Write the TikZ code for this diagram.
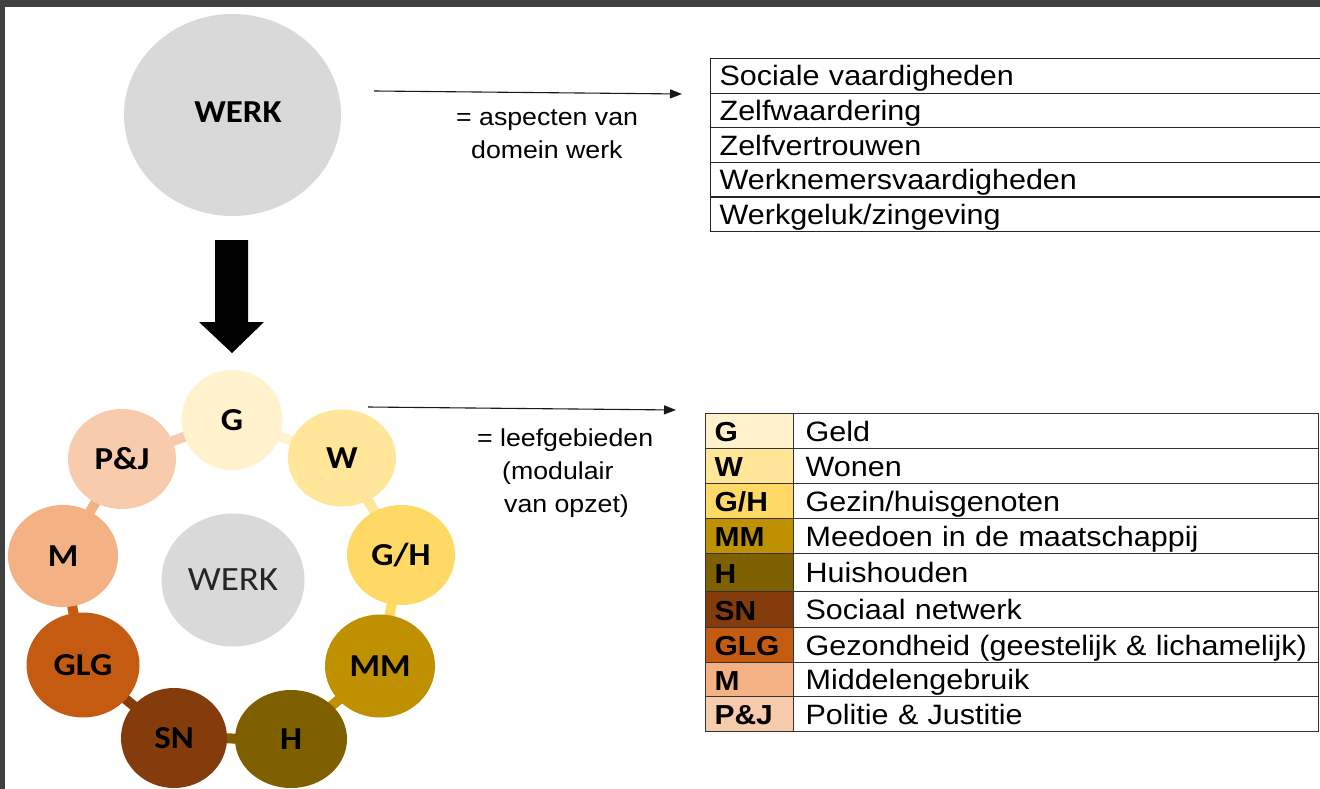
\documentclass[tikz,border=0pt]{standalone}
\usepackage{fontspec}
\setmainfont{Liberation Sans}[FakeStretch=1.09]
\newfontfamily\carlito{Carlito}[FakeStretch=1.09]
\usetikzlibrary{arrows.meta,backgrounds,shapes.geometric}
\definecolor{frame}{HTML}{404040}
\definecolor{cWERK}{HTML}{D9D9D9}
\definecolor{cG}{HTML}{FFF2CC}
\definecolor{cW}{HTML}{FFE699}
\definecolor{cGH}{HTML}{FFD966}
\definecolor{cMM}{HTML}{BF9000}
\definecolor{cH}{HTML}{7F6000}
\definecolor{cSN}{HTML}{843C0C}
\definecolor{cGLG}{HTML}{C55A11}
\definecolor{cM}{HTML}{F4B183}
\definecolor{cPJ}{HTML}{F8CBAD}
\begin{document}
\begin{tikzpicture}[x=1pt,y=-1pt,
  ringc/.style={ellipse,inner sep=0pt,font=\carlito\bfseries\fontsize{32}{32}\selectfont},
  conn/.style={line width=10pt},
  thinarrow/.style={line width=1.1pt,draw=black!90,-{Triangle[length=12pt,width=9pt]}},
  anno/.style={align=left,inner sep=0pt,anchor=north west,font=\fontsize{24.5}{33}\selectfont},
  cellA/.style={draw=black!85,line width=1.2pt,anchor=north west,inner xsep=9pt,inner ysep=0pt,
     text width=602pt,text height=24pt,text depth=4pt,font=\fontsize{28}{28}\selectfont},
  keycell/.style={draw=black!80,line width=1.2pt,anchor=north west,inner xsep=9pt,inner ysep=0pt,
     text width=70pt,text height=23pt,text depth=2pt,font=\bfseries\fontsize{27.5}{27.5}\selectfont},
  desccell/.style={draw=black!80,line width=1.2pt,anchor=north west,inner xsep=12pt,inner ysep=0pt,
     text width=501pt,text height=24pt,text depth=4pt,font=\fontsize{28}{28}\selectfont}]
\useasboundingbox (0,0) rectangle (1320,789);
\begin{scope}[on background layer]
  \fill[white] (0,0) rectangle (1320,789);
\end{scope}
\fill[frame] (0,0) rectangle (1320,7);
\fill[frame] (0,0) rectangle (5,789);

% top WERK circle
\node[ellipse,fill=cWERK,inner sep=0pt,minimum width=217pt,minimum height=202pt] (werk) at (232.5,115) {};
\node[inner sep=0pt,font=\carlito\bfseries\fontsize{32}{32}\selectfont] (werkl) at (238,112) {WERK};

% big down arrow
\fill[black] (215,240) -- (248,240) -- (248,322) -- (264,322) -- (232,353) -- (199,322) -- (215,322) -- cycle;

% arrow 1 + annotation
\coordinate (a1s) at (374,91);
\coordinate (a1e) at (682,94);
\draw[thinarrow] (a1s) -- (a1e);
\node[anno] (ann1) at (456,109) {= aspecten van\\\hspace*{15pt}domein werk};

% table 1
\node[cellA,minimum height=34.6pt] (t1) at (710,58) {Sociale vaardigheden};
\node[cellA,minimum height=34.6pt] (t2) at (710,92.6) {Zelfwaardering};
\node[cellA,minimum height=34.6pt] (t3) at (710,127.2) {Zelfvertrouwen};
\node[cellA,minimum height=34.6pt] (t4) at (710,161.8) {Werknemersvaardigheden};
\node[cellA,minimum height=34.6pt] (t5) at (710,196.4) {Werkgeluk/zingeving};

% arrow 2 + annotation
\coordinate (a2s) at (368,407);
\coordinate (a2e) at (676,410);
\draw[thinarrow] (a2s) -- (a2e);
\node[anno] (ann2) at (477,429) {= leefgebieden\\\hspace*{25pt}(modulair\\\hspace*{27pt}van opzet)};

% table 2
\foreach \i/\y/\h/\c/\k/\d in {
  1/413/35/cG/G/Geld,
  2/448/35/cW/W/Wonen,
  3/483/35/cGH/G\slash H/Gezin\slash huisgenoten,
  4/518/35/cMM/MM/Meedoen in de maatschappij,
  5/553/38/cH/H/Huishouden,
  6/591/36/cSN/SN/Sociaal netwerk,
  7/627/35/cGLG/GLG/Gezondheid (geestelijk \& lichamelijk),
  8/662/34/cM/M/Middelengebruik,
  9/696/35/cPJ/P\&J/Politie \& Justitie}{
  \node[keycell,fill=\c,minimum height=\h pt] (k\i) at (705,\y) {\k};
  \node[desccell,minimum height=\h pt] (d\i) at (793,\y) {\mbox{\d}};
}

% ring of life domains
\node[ringc,fill=cG,minimum width=101pt,minimum height=100pt] (g) at (232,420) {G};
\node[ringc,fill=cW,minimum width=108pt,minimum height=97pt] (w) at (342,458) {W};
\node[ringc,fill=cGH,minimum width=108pt,minimum height=100pt] (gh) at (401,555) {G/H};
\node[ringc,fill=cMM,minimum width=110pt,minimum height=103pt] (mm) at (380,666) {MM};
\node[ringc,fill=cH,minimum width=112pt,minimum height=98pt] (h) at (291,739) {H};
\node[ringc,fill=cSN,minimum width=106pt,minimum height=100pt] (sn) at (174,738) {SN};
\node[ringc,fill=cGLG,minimum width=113pt,minimum height=105pt] (glg) at (83,665) {GLG};
\node[ringc,fill=cM,minimum width=110pt,minimum height=102pt] (m) at (63,556) {M};
\node[ringc,fill=cPJ,minimum width=108pt,minimum height=100pt] (pj) at (122,459) {P\&J};
\node[ellipse,fill=cWERK,inner sep=0pt,minimum width=143pt,minimum height=133pt,
      text=black!85,font=\carlito\fontsize{34}{34}\selectfont] (werk2) at (233,580) {WERK};

\begin{scope}[on background layer]
  \draw[conn,draw=cPJ] (pj.center) -- (g.center);
  \draw[conn,draw=cG] (g.center) -- (w.center);
  \draw[conn,draw=cW] (w.center) -- (gh.center);
  \draw[conn,draw=cGH] (gh.center) -- (mm.center);
  \draw[conn,draw=cMM] (mm.center) -- (h.center);
  \draw[conn,draw=cH] (h.center) -- (sn.center);
  \draw[conn,draw=cSN] (sn.center) -- (glg.center);
  \draw[conn,draw=cGLG] (glg.center) -- (m.center);
  \draw[conn,draw=cM] (m.center) -- (pj.center);
\end{scope}
\end{tikzpicture}
\end{document}
